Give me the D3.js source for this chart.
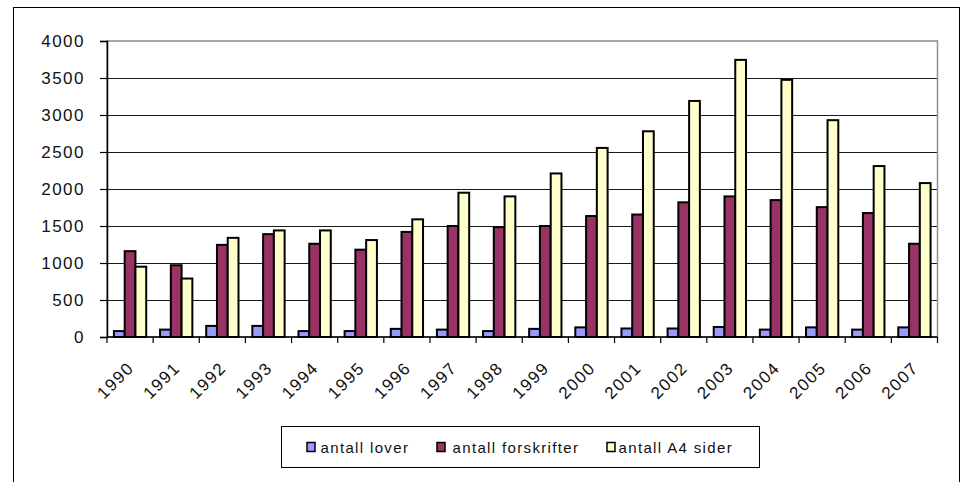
<!DOCTYPE html>
<html>
<head>
<meta charset="utf-8">
<script src="https://cdn.jsdelivr.net/npm/d3@7"></script>
<style>
  html, body { margin: 0; padding: 0; background: #fff; }
  svg { display: block; }
  text { font-family: "Liberation Sans", Arial, sans-serif; fill: #111; }
</style>
</head>
<body>
<svg id="chart" width="965" height="482"></svg>
<script>
const years = ["1990","1991","1992","1993","1994","1995","1996","1997","1998","1999","2000","2001","2002","2003","2004","2005","2006","2007"];
const seriesNames = ["antall lover", "antall forskrifter", "antall A4 sider"];
const lover       = [80, 100, 150, 150, 80, 80, 110, 100, 80, 110, 130, 115, 115, 135, 100, 130, 100, 130];
const forskrifter = [1160, 970, 1245, 1390, 1260, 1180, 1420, 1500, 1485, 1500, 1635, 1655, 1820, 1900, 1850, 1755, 1675, 1260];
const a4sider     = [950, 790, 1340, 1440, 1440, 1310, 1590, 1950, 1900, 2210, 2555, 2780, 3190, 3745, 3475, 2930, 2310, 2080];
const yTicks = [0, 500, 1000, 1500, 2000, 2500, 3000, 3500, 4000];
const colors = ["#9999FF", "#993366", "#FFFFCC"];

const seriesValues = [lover, forskrifter, a4sider];
const data = years.map((y, i) => ({ year: y, values: seriesValues.map(s => s[i]) }));

const svg = d3.select("#chart");
const plot = { left: 107, right: 937.5, top: 41, bottom: 337 };

// outer border
svg.append("rect")
  .attr("x", 13.5).attr("y", 7.5)
  .attr("width", 946).attr("height", 500)
  .attr("fill", "none").attr("stroke", "#000").attr("stroke-width", 1);

const x = d3.scaleBand().domain(years).range([plot.left, plot.right])
  .paddingInner(0.3).paddingOuter(0.15);
const xs = d3.scaleBand().domain(d3.range(seriesNames.length)).range([0, x.bandwidth()]);
const y = d3.scaleLinear().domain([0, 4000]).range([plot.bottom, plot.top]);

// gridlines
svg.append("g").selectAll("line").data(yTicks.filter(t => t > 0 && t < 4000)).join("line")
  .attr("x1", plot.left).attr("x2", plot.right)
  .attr("y1", d => Math.round(y(d)) + 0.5).attr("y2", d => Math.round(y(d)) + 0.5)
  .attr("stroke", "#1a1a1a").attr("stroke-width", 1.2);

// plot area border (gray)
svg.append("rect")
  .attr("x", plot.left).attr("y", plot.top)
  .attr("width", plot.right - plot.left).attr("height", plot.bottom - plot.top)
  .attr("fill", "none").attr("stroke", "#8c8c8c").attr("stroke-width", 1.5);

// bars
const groups = svg.append("g").selectAll("g").data(data).join("g")
  .attr("transform", d => `translate(${x(d.year)},0)`);
groups.selectAll("rect").data(d => d.values.map((v, k) => ({ v, k }))).join("rect")
  .attr("x", d => xs(d.k))
  .attr("y", d => y(d.v))
  .attr("width", xs.bandwidth())
  .attr("height", d => y(0) - y(d.v))
  .attr("fill", d => colors[d.k])
  .attr("stroke", "#000").attr("stroke-width", 2);

// y axis
const yAxis = svg.append("g").attr("transform", `translate(${plot.left},0)`)
  .call(d3.axisLeft(y).tickValues(yTicks).tickSize(7).tickPadding(15).tickFormat(d3.format("d")));
yAxis.select(".domain").attr("stroke", "#000").attr("stroke-width", 1.5);
yAxis.selectAll(".tick line").attr("stroke", "#000").attr("stroke-width", 1.2);
yAxis.selectAll("text")
  .attr("font-family", "'Liberation Sans', Arial, sans-serif")
  .attr("font-size", 17).attr("letter-spacing", "1.5px").attr("fill", "#111");

// x axis line + ticks at category boundaries
const boundaries = years.map((v, i) => plot.left + i * x.step());
boundaries.push(plot.right);
svg.append("line").attr("x1", plot.left).attr("x2", plot.right)
  .attr("y1", y(0)).attr("y2", y(0)).attr("stroke", "#000").attr("stroke-width", 1.5);
svg.append("g").selectAll("line").data(boundaries).join("line")
  .attr("x1", d => d).attr("x2", d => d)
  .attr("y1", y(0)).attr("y2", y(0) + 6)
  .attr("stroke", "#000").attr("stroke-width", 1.2);

// x labels
svg.append("g").selectAll("text").data(years).join("text")
  .attr("transform", d => `translate(${x(d) + x.bandwidth() / 2 + 5},369) rotate(-45)`)
  .attr("text-anchor", "end")
  .attr("font-size", 17).attr("letter-spacing", "1.5px")
  .text(d => d);

// legend
const legend = svg.append("g");
legend.append("rect")
  .attr("x", 281.5).attr("y", 426.5).attr("width", 478).attr("height", 41)
  .attr("fill", "#fff").attr("stroke", "#000").attr("stroke-width", 1);
const legendX = [306.5, 436.5, 606.5];
const items = legend.selectAll("g.item").data(seriesNames).join("g")
  .attr("class", "item")
  .attr("transform", (d, i) => `translate(${legendX[i]},0)`);
items.append("rect")
  .attr("x", 0.5).attr("y", 442.5).attr("width", 8).attr("height", 9)
  .attr("fill", (d, i) => colors[i]).attr("stroke", "#000").attr("stroke-width", 1.5);
items.append("text")
  .attr("x", (d, i) => [14, 16, 12][i]).attr("y", 452.5)
  .attr("font-size", 15).attr("letter-spacing", "1.35px")
  .text(d => d);
</script>
</body>
</html>
